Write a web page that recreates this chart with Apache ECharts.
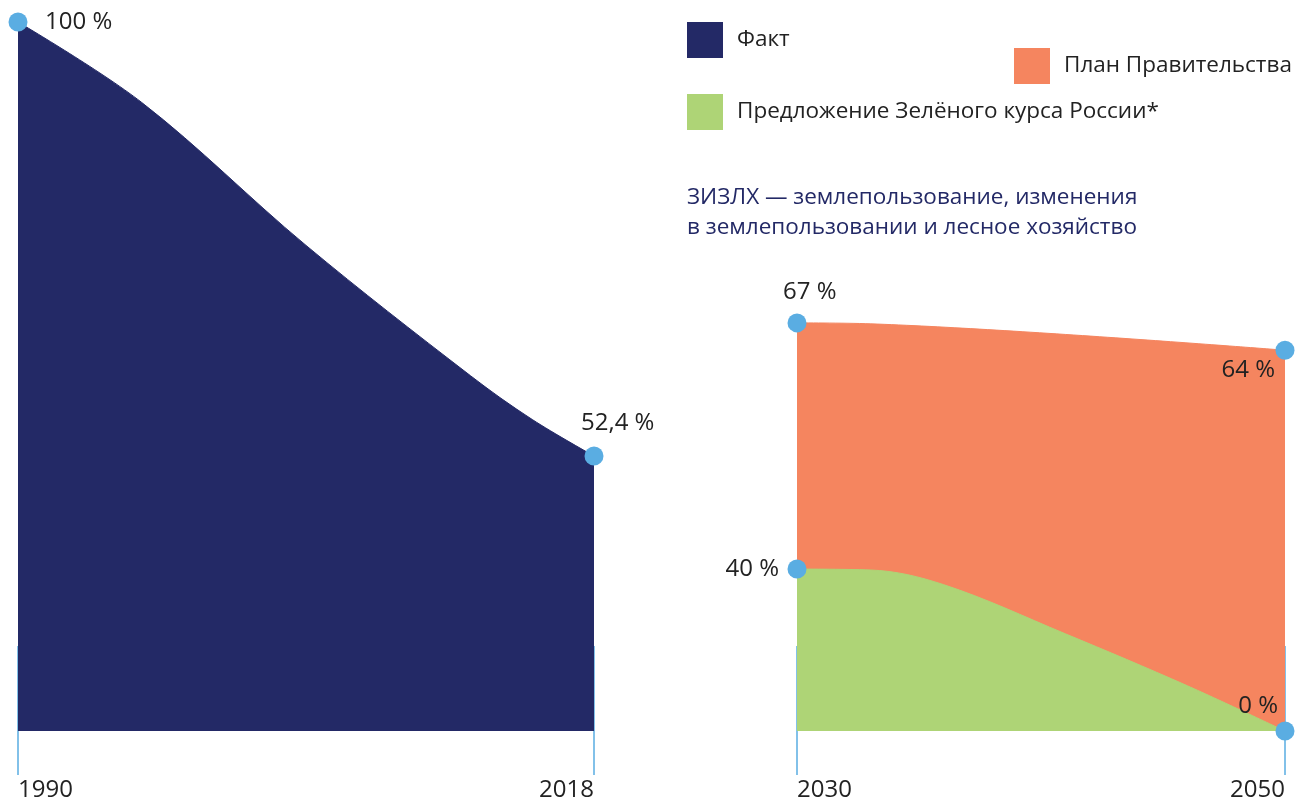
<!DOCTYPE html>
<html><head><meta charset="utf-8">
<script src="https://cdn.jsdelivr.net/npm/echarts@6/dist/echarts.min.js"></script>
<style>html,body{margin:0;padding:0;background:#fff}#c{width:1295px;height:803px}</style>
</head><body><div id="c"></div><script>
// ---- data ----
const seriesNames = ['Факт', 'План Правительства', 'Предложение Зелёного курса России*'];
const factYears = [1990, 1996, 2004, 2012, 2015, 2018];
const factValues = [100, 91.2, 75.5, 61.2, 56.4, 52.4];
const planYears = [2030, 2033, 2050];
const planValues = [67, 66.9, 64];
const greenYears = [2030, 2033, 2036, 2041, 2046, 2050];
const greenValues = [40, 39.9, 38.3, 32.9, 27.2, 0];
const leftTicks = [1990, 2018];
const rightTicks = [2030, 2050];
const noteLines = ['ЗИЗЛХ — землепользование, изменения', 'в землепользовании и лесное хозяйство'];

// ---- style ----
const FONT = 'Open Sans';
const C = { fact: '#232966', plan: '#F5855F', green: '#AED476', dot: '#5AADE2', text: '#222222' };
const Y_FLOOR = 22.24; // the picture's value axis starts here; lower values sit on the baseline
const labelPos = {
  fact: [{ position: [36.5, 9.5], align: 'left' }, { position: [-3.5, -23.5], align: 'left' }],
  plan: [{ position: [-4.5, -21.5], align: 'left' }, { position: [-0.5, 29.5], align: 'right' }],
  green: [{ position: [-8.5, 9.5], align: 'right' }, { position: [2.5, -15.5], align: 'right' }]
};
const fmt = v => String(v).replace('.', ',') + ' %';

function build(years, values, lp) {
  return years.map((yr, i) => {
    const v = values[i];
    const last = years.length - 1;
    const item = { value: [yr, Math.max(v, Y_FLOOR)] };
    if (i === 0 || i === last) {
      const p = lp[i === 0 ? 0 : 1];
      item.label = { show: true, formatter: fmt(v), position: p.position, align: p.align,
        verticalAlign: 'middle', fontSize: 24, color: C.text, fontFamily: FONT };
    } else {
      item.symbol = 'none';
    }
    return item;
  });
}

function xAxis(grid, ticks) {
  return {
    type: 'value', gridIndex: grid, min: ticks[0], max: ticks[ticks.length - 1],
    offset: 44,
    axisLine: { show: false },
    splitLine: { show: false },
    axisTick: { show: true, inside: true, length: 129, customValues: ticks,
      lineStyle: { color: C.dot, width: 1.5 } },
    axisLabel: { show: true, customValues: ticks, alignMinLabel: 'left', alignMaxLabel: 'right',
      formatter: v => String(v),
      margin: 3, fontSize: 24, color: C.text, fontFamily: FONT, verticalAlign: 'top' }
  };
}
function yAxis(grid) {
  return { type: 'value', gridIndex: grid, min: Y_FLOOR, max: 100, show: false };
}
function areaSeries(name, grid, data, color, z) {
  return {
    name, type: 'line', xAxisIndex: grid, yAxisIndex: grid, data,
    smooth: 0.35,
    symbol: 'circle', symbolSize: 19, showSymbol: true,
    itemStyle: { color: C.dot },
    lineStyle: { color, width: 1 },
    areaStyle: { color, opacity: 1, origin: 'start' },
    emphasis: { disabled: true }, z, clip: false
  };
}
const legendCommon = {
  orient: 'vertical', padding: 0, itemWidth: 36, itemHeight: 36, icon: 'rect', selectedMode: false,
  textStyle: { fontSize: 22.5, color: C.text, fontFamily: FONT, padding: [0, 0, 0, 9] }
};
function legendItem(name, color) {
  return { name, itemStyle: { color, borderWidth: 0 } };
}

const chart = echarts.init(document.getElementById('c'), null, { renderer: 'canvas' });
chart.setOption({
  animation: false,
  backgroundColor: '#ffffff',
  textStyle: { fontFamily: FONT },
  title: {
    text: noteLines.join('\n'), left: 687, top: 183, padding: 0,
    textStyle: { fontSize: 22.5, lineHeight: 30, color: C.fact, fontWeight: 'normal', fontFamily: FONT }
  },
  legend: [
    Object.assign({ left: 687, top: 22, data: [legendItem(seriesNames[0], C.fact)] }, legendCommon),
    Object.assign({ left: 1014, top: 48, data: [legendItem(seriesNames[1], C.plan)] }, legendCommon),
    Object.assign({ left: 687, top: 94, data: [legendItem(seriesNames[2], C.green)] }, legendCommon)
  ],
  grid: [
    { left: 18, top: 22, width: 576, height: 709 },
    { left: 797, top: 22, width: 488, height: 709 }
  ],
  xAxis: [xAxis(0, leftTicks), xAxis(1, rightTicks)],
  yAxis: [yAxis(0), yAxis(1)],
  series: [
    areaSeries(seriesNames[0], 0, build(factYears, factValues, labelPos.fact), C.fact, 2),
    areaSeries(seriesNames[1], 1, build(planYears, planValues, labelPos.plan), C.plan, 2),
    areaSeries(seriesNames[2], 1, build(greenYears, greenValues, labelPos.green), C.green, 3)
  ]
});
</script></body></html>
